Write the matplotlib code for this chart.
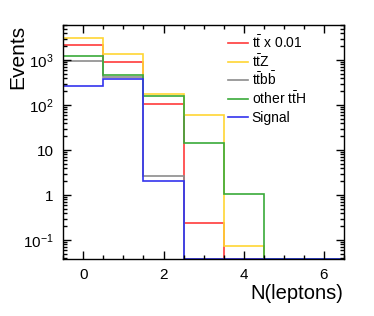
import numpy as np
import matplotlib
matplotlib.use("Agg")
import matplotlib.pyplot as plt
from matplotlib.lines import Line2D
from matplotlib.ticker import FixedLocator, FixedFormatter, LogLocator, MultipleLocator, NullFormatter

plt.rcParams['font.family'] = ['Liberation Sans', 'DejaVu Sans']
plt.rcParams['mathtext.fontset'] = 'custom'
plt.rcParams['mathtext.rm'] = 'Liberation Sans'
plt.rcParams['mathtext.it'] = 'Liberation Sans'
plt.rcParams['mathtext.default'] = 'regular'

edges = np.arange(-0.5, 7.0, 1.0)
labels = [r'$t\bar{t}$ x 0.01', r'$t\bar{t}Z$', r'$t\bar{t}b\bar{b}$', r'other $t\bar{t}H$', 'Signal']
colors = ['#ff3b3b', '#ffd633', '#8c8c8c', '#3aaa3a', '#3333ee']
ttbar = [2120, 918, 107, 0.243, 0, 0, 0]
ttz = [3130, 1360, 176, 60, 0.075, 0, 0]
ttbb = [935, 412, 2.64, 0, 0, 0, 0]
other_tth = [1250, 457, 156, 14.1, 1.07, 0, 0]
signal = [268, 372, 2.08, 0, 0, 0, 0]
series = [ttbar, ttz, ttbb, other_tth, signal]

ymin, ymax = 0.0384, 6000
W, H = 374, 316

fig = plt.figure(figsize=(3.74, 3.16), dpi=100)
ax = fig.add_axes([63.3/W, 1-258.7/H, (344-63.3)/W, (258.7-25)/H])

for vals, c, lab in zip(series, colors, labels):
    v = np.clip(np.array(vals, dtype=float), ymin, None)
    ax.stairs(v, edges, baseline=ymin, color=c, lw=1.2, label=lab)

ax.set_yscale('log')
ax.set_xlim(-0.5, 6.5)
ax.set_ylim(ymin, ymax)

ax.xaxis.set_major_locator(MultipleLocator(2))
ax.xaxis.set_minor_locator(MultipleLocator(0.5))
ax.yaxis.set_major_locator(FixedLocator([0.1, 1, 10, 100, 1000]))
ax.yaxis.set_major_formatter(FixedFormatter([r'$10^{-1}$', '1', '10', r'$10^{2}$', r'$10^{3}$']))
ax.yaxis.set_minor_locator(LogLocator(base=10, subs=np.arange(2, 10)))
ax.yaxis.set_minor_formatter(NullFormatter())

ax.tick_params(which='both', direction='in', top=True, right=True, labelsize=11, width=1.0)
ax.tick_params(which='major', length=6)
ax.tick_params(which='minor', length=3)
ax.tick_params(axis='x', pad=7)
ax.tick_params(axis='y', pad=7)
for s in ax.spines.values():
    s.set_linewidth(1.0)

fig.text(18/W, 1-25/H, 'Events', rotation=90, ha='center', va='top', fontsize=15)
fig.text(343/W, 1-284/H, 'N(leptons)', ha='right', va='top', fontsize=14.5)

# legend (ROOT-style, no frame)
for i, (c, lab) in enumerate(zip(colors, labels)):
    yl = 43.3 + 18.45 * i
    fig.add_artist(Line2D([228.3/W, 248.3/W], [1-yl/H, 1-yl/H], color=c, lw=1.2,
                          transform=fig.transFigure))
    fig.text(251.7/W, 1-(yl+5.2)/H, lab, ha='left', va='baseline', fontsize=10)

fig.savefig('out.png', dpi=100)
